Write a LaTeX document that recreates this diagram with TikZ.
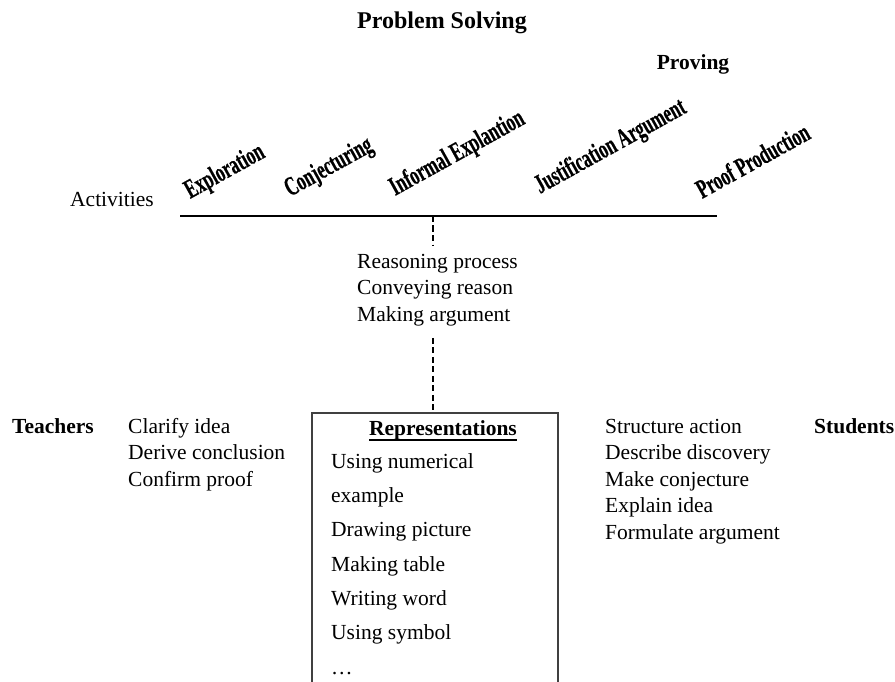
\documentclass[tikz,border=0pt]{standalone}
\usepackage{graphicx}
\usepackage{fontspec}
\setmainfont{Liberation Serif}
\newfontfamily\actfont[FakeBold=0.5]{Liberation Serif}
% thick underline below the text
\newsavebox{\ulbox}
\newcommand{\thickul}[1]{\sbox{\ulbox}{#1}\rlap{\rule[-6pt]{\wd\ulbox}{1.8pt}}\usebox{\ulbox}}
% condensed letters for the activities
\newcommand{\narrowtext}[1]{\scalebox{0.63}[1]{#1}}
\tikzset{
  body text/.style={
    anchor=base west,
    inner sep=0pt,
    align=left,
    font=\fontsize{21.5}{26.4}\selectfont,
  },
  item text/.style={
    body text,
    font=\fontsize{21.5}{34.3}\selectfont,
  },
  role label/.style={
    anchor=base west,
    inner sep=0pt,
    font=\bfseries\fontsize{21.5}{26}\selectfont,
  },
  activity/.style={
    anchor=base west,
    inner sep=0pt,
    rotate=29,
    font=\actfont\bfseries\fontsize{27}{30}\selectfont,
  },
  dashed link/.style={
    line width=2pt,
    dash pattern=on 6pt off 3.5pt,
  }
}

\begin{document}
\begin{tikzpicture}[x=1pt,y=-1pt]
        \useasboundingbox (0,0) rectangle (895,682);

        \node [anchor=base, inner sep=0pt, font=\bfseries\fontsize{24}{28}\selectfont] (solving) at (442,29) {Problem Solving};
        \node [anchor=base, inner sep=0pt, font=\bfseries\fontsize{21.5}{26}\selectfont] (proving) at (693,70) {Proving};

        % the activities line
        \node [body text] (activities) at (70,207) {Activities};
        \coordinate (lineL) at (180,216);
        \coordinate (lineR) at (717,216);
        \coordinate (lineM) at (433,216);
        \draw [line width=1.5pt] (lineL) -- (lineR);

        \node [activity] (explore) at (190,199) {\narrowtext{Exploration}};
        \node [activity] (conject) at (290,197) {\narrowtext{Conjecturing}};
        \node [activity] (informal) at (395,196) {\narrowtext{Informal Explantion}};
        \node [activity] (justify) at (540,194) {\narrowtext{Justification Argument}};
        \node [activity] (proof) at (702,199) {\narrowtext{Proof Production}};

        % anchors sit on the last line
        \node [body text] (reason) at (357,321) {Reasoning process\\Conveying reason\\Making argument};

        % open box at the bottom
        \coordinate (boxTL) at (312,413);
        \coordinate (boxTR) at (558,413);
        \draw [line width=1.3pt, black!75] (312,682) |- (boxTR) -- (558,682);

        \draw [dashed link, shorten >=8pt] (lineM) -- (lineM |- reason.north);
        \draw [dashed link, shorten <=12pt] (lineM |- reason.south) -- (lineM |- boxTL);

        \node [anchor=base, inner sep=0pt, font=\bfseries\fontsize{21.5}{26}\selectfont] (reps) at (443,435) {\thickul{Representations}};
        \node [item text] (items) at (331,674) {Using numerical\\example\\Drawing picture\\Making table\\Writing word\\Using symbol\\…};

        \node [role label] (teachers) at (12,433) {Teachers};
        \node [body text] (teach) at (128,486) {Clarify idea\\Derive conclusion\\Confirm proof};

        \node [body text] (learn) at (605,539) {Structure action\\Describe discovery\\Make conjecture\\Explain idea\\Formulate argument};
        \node [role label] (students) at (814,433) {Students};
      \end{tikzpicture}
\end{document}
